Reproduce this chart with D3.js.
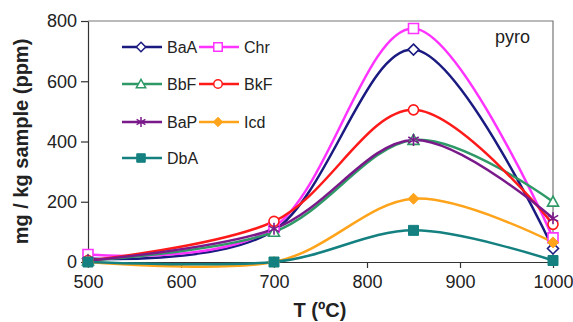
<!DOCTYPE html>
<meta charset="utf-8">
<script src="https://d3js.org/d3.v7.min.js"></script>
<style>
  body { margin: 0; background: #fff; }
  text { font-family: "Liberation Sans", Arial, sans-serif; fill: #222; }
</style>
<div id="chart"></div>
<script>

// temperatures (x) and the seven PAH series
var temps = [500, 700, 850, 1000];
var BaA = [12, 105, 705, 45];
var Chr = [25, 115, 775, 80];
var BbF = [5, 100, 405, 200];
var BkF = [5, 135, 505, 125];
var BaP = [5, 110, 405, 145];
var Icd = [0, 0, 210, 65];
var DbA = [0, 0, 105, 5];
var yTicks = [0, 200, 400, 600, 800];
var xTicks = [500, 600, 700, 800, 900, 1000];

var series = [
  {name: "BaA", values: BaA, color: "#1a1a80", marker: "diamond", fill: false},
  {name: "Chr", values: Chr, color: "#ff33ff", marker: "square", fill: false},
  {name: "BbF", values: BbF, color: "#2e9966", marker: "triangle", fill: false},
  {name: "BkF", values: BkF, color: "#ff1a1a", marker: "circle", fill: false},
  {name: "BaP", values: BaP, color: "#7a1a8a", marker: "star", fill: false},
  {name: "Icd", values: Icd, color: "#ffa31a", marker: "diamond", fill: true},
  {name: "DbA", values: DbA, color: "#148080", marker: "square", fill: true}
];

var W = 573, H = 322;
var margin = {top: 21, right: 20, bottom: 60, left: 88},
    width = 553 - margin.left,
    height = 262 - margin.top;

var svg = d3.select("#chart").append("svg")
    .attr("width", W)
    .attr("height", H);

var g = svg.append("g")
    .attr("transform", "translate(" + margin.left + "," + margin.top + ")");

var x = d3.scaleLinear().domain([500, 1000]).range([0, width]);
var y = d3.scaleLinear().domain([0, 800]).range([height, 0]);

// frame (top + right)
g.append("path")
  .attr("d", "M0,0H" + width + "V" + height)
  .attr("fill", "none")
  .attr("stroke", "#777")
  .attr("stroke-width", 1.2);

// axes
var xAxis = g.append("g")
  .attr("transform", "translate(0," + height + ")")
  .call(d3.axisBottom(x).tickValues(xTicks).tickFormat(d3.format("d"))
    .tickSize(6).tickSizeOuter(0).tickPadding(7));
var yAxis = g.append("g")
  .call(d3.axisLeft(y).tickValues(yTicks).tickSize(7).tickSizeOuter(0).tickPadding(4));
[xAxis, yAxis].forEach(function(a) {
  a.selectAll("path, line").attr("stroke", "#333").attr("stroke-width", 1.2);
  a.selectAll("text").style("font-size", "18px").attr("fill", "#222");
});

// symbol shapes
function symbolPath(type, s) {
  if (type === "diamond") return "M0," + (-s) + "L" + s + ",0L0," + s + "L" + (-s) + ",0Z";
  if (type === "square") return "M" + (-s) + "," + (-s) + "H" + s + "V" + s + "H" + (-s) + "Z";
  if (type === "triangle") return "M0," + (-s) + "L" + s + "," + (s * 0.8) + "H" + (-s) + "Z";
  if (type === "circle") return d3.symbol().type(d3.symbolCircle).size(Math.PI * s * s)();
  if (type === "star") {
    var p = "", r = s;
    for (var i = 0; i < 3; i++) {
      var a = Math.PI / 2 + i * Math.PI / 3;
      p += "M" + (r * Math.cos(a)) + "," + (r * Math.sin(a)) + "L" + (-r * Math.cos(a)) + "," + (-r * Math.sin(a));
    }
    return p;
  }
}
var sizes = {diamond: 5.5, square: 5, triangle: 5.5, circle: 5, star: 6};

var line = d3.line()
  .x(function(d) { return x(d[0]); })
  .y(function(d) { return y(d[1]); })
  .curve(d3.curveCatmullRom.alpha(0));

series.forEach(function(s) {
  var pts = temps.map(function(t, i) { return [t, s.values[i]]; });
  g.append("path")
    .datum(pts)
    .attr("fill", "none")
    .attr("stroke", s.color)
    .attr("stroke-width", 2.5)
    .attr("d", line);
});

series.forEach(function(s) {
  var pts = temps.map(function(t, i) { return [t, s.values[i]]; });
  g.append("g").selectAll("path")
    .data(pts)
    .enter().append("path")
      .attr("transform", function(d) { return "translate(" + x(d[0]) + "," + y(d[1]) + ")"; })
      .attr("d", symbolPath(s.marker, sizes[s.marker]))
      .attr("fill", s.fill ? s.color : (s.marker === "star" ? "none" : "#fff"))
      .attr("stroke", s.color)
      .attr("stroke-width", s.fill ? 1 : 1.6);
});

// legend
var leg = svg.append("g");
series.forEach(function(s, i) {
  var col = i % 2, row = Math.floor(i / 2);
  var lx = col === 0 ? 122 : 199, ly = [47, 84, 122, 158][row];
  var it = leg.append("g").attr("transform", "translate(" + lx + "," + ly + ")");
  it.append("line").attr("x1", 0).attr("x2", 40).attr("y1", 0).attr("y2", 0)
    .attr("stroke", s.color).attr("stroke-width", 2.5);
  it.append("path").attr("transform", "translate(19,0)")
    .attr("d", symbolPath(s.marker, sizes[s.marker] * 0.85))
    .attr("fill", s.fill ? s.color : (s.marker === "star" ? "none" : "#fff"))
    .attr("stroke", s.color)
    .attr("stroke-width", s.fill ? 1 : 1.5);
  it.append("text").attr("x", 45).attr("y", 5.5)
    .style("font-size", "16px").text(s.name);
});

svg.append("text")
  .attr("x", 495).attr("y", 43)
  .style("font-size", "18px")
  .text("pyro");

// axis titles
svg.append("text")
  .attr("transform", "translate(28," + (margin.top + height / 2) + ") rotate(-90)")
  .attr("text-anchor", "middle")
  .style("font-size", "20px")
  .style("font-weight", "bold")
  .text("mg / kg sample (ppm)");

svg.append("text")
  .attr("x", 320)
  .attr("y", 317)
  .attr("text-anchor", "middle")
  .style("font-size", "20px")
  .style("font-weight", "bold")
  .text("T (ºC)");

</script>
